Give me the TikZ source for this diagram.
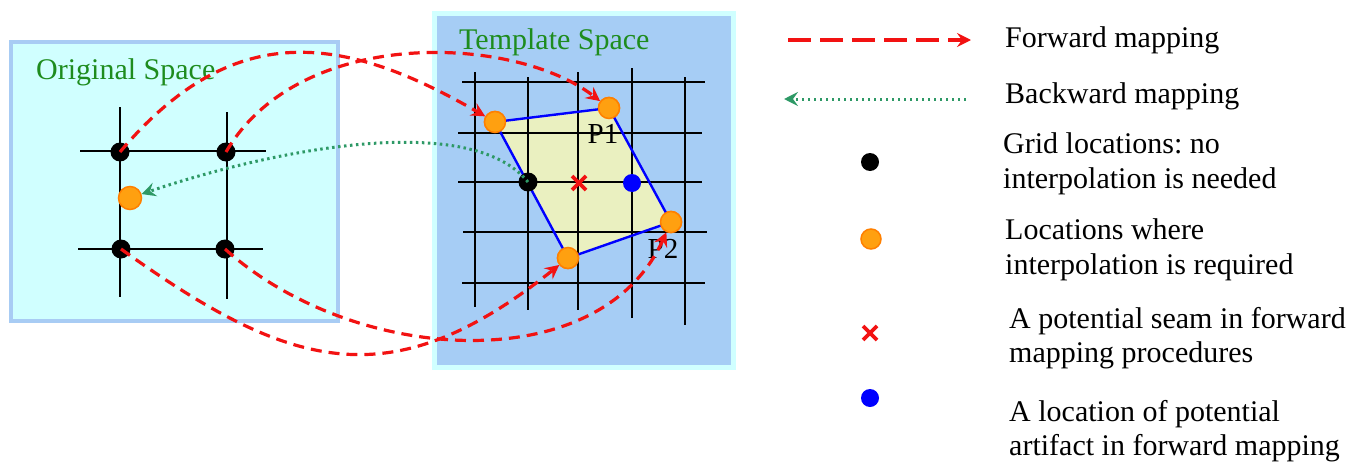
\documentclass[tikz,border=0pt]{standalone}
\usepackage{fontspec}
\setmainfont{Liberation Serif}
\frenchspacing
\usetikzlibrary{arrows.meta}
\definecolor{origfill}{HTML}{D0FFFF}
\definecolor{origedge}{HTML}{A8CCF4}
\definecolor{tplfill}{HTML}{A6CDF5}
\definecolor{tpledge}{HTML}{D0FFFF}
\definecolor{lblgreen}{HTML}{1E8C1E}
\definecolor{fwdred}{HTML}{F21212}
\definecolor{bwdgreen}{HTML}{2E9966}
\definecolor{quadfill}{HTML}{EAF0C0}
\definecolor{orgfill}{HTML}{FFA010}
\definecolor{orgedge}{HTML}{FF8000}
\begin{document}
\begin{tikzpicture}[x=1pt,y=-1pt,
  gridline/.style={line width=2.9pt, black},
  bdot/.style={circle, fill=black, inner sep=0pt, minimum size=19pt},
  odot/.style={circle, fill=orgfill, draw=orgedge, line width=1.5pt, inner sep=0pt, minimum size=21pt},
  bldot/.style={circle, fill=blue, inner sep=0pt, minimum size=18pt},
  fwd/.style={draw=fwdred, line width=3.2pt, dash pattern=on 11pt off 7pt,
    -{Stealth[length=14pt,width=14pt,inset=5pt]}},
  fwdleg/.style={fwd, line width=4pt, dash pattern=on 23pt off 9pt},
  bwd/.style={draw=bwdgreen, line width=3pt, dash pattern=on 2.5pt off 3.5pt,
    -{Stealth[length=14pt,width=14pt,inset=5pt]}},
  seamx/.style={draw=fwdred, line width=3.8pt},
  spacelbl/.style={text=lblgreen, font=\fontsize{30}{34}\selectfont, inner sep=0pt},
  plbl/.style={text=black, font=\fontsize{29}{34}\selectfont, inner sep=0pt},
  legtext/.style={anchor=west, align=left, inner sep=0pt, font=\fontsize{30}{34.5}\selectfont}
]
\useasboundingbox (0,0) rectangle (1350,463);

% boxes
\draw[draw=origedge, fill=origfill, line width=4.5pt] (11,42) rectangle (338,321);
\draw[draw=tpledge, fill=tplfill, line width=5pt] (434,13) rectangle (733,367);
\node[spacelbl, anchor=west] (origlbl) at (36,72) {Original Space};
\node[spacelbl, anchor=west] (tpllbl) at (459,42) {Template Space};

% left grid
\draw[gridline] (120,107) -- (120,297);
\draw[gridline] (227,112) -- (227,299);
\draw[gridline] (80,151) -- (266,151);
\draw[gridline] (78,249) -- (263,249);

% template quad
\node[odot] (A) at (495,122) {};
\node[odot] (B) at (609,108) {};
\node[odot] (C) at (671,222) {};
\node[odot] (D) at (568,258) {};
\fill[quadfill] (A.center) -- (B.center) -- (C.center) -- (D.center) -- cycle;

% template grid
\draw[gridline] (475,72) -- (475,307);
\draw[gridline] (528,77) -- (528,310);
\draw[gridline] (578,72) -- (578,310);
\draw[gridline] (632,68) -- (632,318);
\draw[gridline] (685,77) -- (685,325);
\draw[gridline] (462,82) -- (705,82);
\draw[gridline] (458,133) -- (702,133);
\draw[gridline] (458,182) -- (702,182);
\draw[gridline] (463,232) -- (707,232);
\draw[gridline] (462,283) -- (705,283);

\draw[blue, line width=2.4pt] (A.center) -- (B.center) -- (C.center) -- (D.center) -- cycle;
\node[odot] at (A) {};
\node[odot] at (B) {};
\node[odot] at (C) {};
\node[odot] at (D) {};

\node[plbl] (p1) at (603,134) {P1};
\node[plbl] (p2) at (663,249) {P2};

% template markers
\node[bdot] (tb) at (528,182) {};
\coordinate (seam) at (579,183);
\draw[seamx] (572,176) -- (586,190) (572,190) -- (586,176);
\node[bldot] (art) at (632,183) {};

% left dots
\node[bdot] (tl) at (120,152) {};
\node[bdot] (tr) at (226,152) {};
\node[bdot] (bl) at (121,249) {};
\node[bdot] (br) at (225,249) {};
\node[odot, minimum size=23pt] (o) at (130,198) {};

% forward mappings
\draw[fwd] (tl.center) .. controls (233,18) and (343,34) .. (A);
\draw[fwd] (tr.center) .. controls (300,25) and (515,35) .. (B);
\draw[fwd] (bl.center) .. controls (290,370) and (390,400) .. (D);
\draw[fwd] (br.center) .. controls (354,365) and (600,380) .. (C);

% backward mapping
\draw[bwd] (tb.center) .. controls (470,110) and (271,150) .. (o);

% legend
\coordinate (f1) at (788,40);
\coordinate (f2) at (971,40);
\draw[fwdleg] (f1) -- (f2);
\coordinate (g1) at (966,99);
\coordinate (g2) at (784,99);
\draw[bwd] (g1) -- (g2);
\node[bdot, minimum size=18pt] (lb) at (870,162) {};
\node[odot, minimum size=20pt] (lo) at (871,239) {};
\coordinate (lx) at (870,333);
\draw[seamx] (863,326) -- (877,340) (863,340) -- (877,326);
\node[bldot] (lbl) at (870,398) {};

\node[legtext] (t1) at (1005,40) {Forward mapping};
\node[legtext] (t2) at (1005,96) {Backward mapping};
\node[legtext] (t3) at (1003,164) {Grid locations: no\\interpolation is needed};
\node[legtext] (t4) at (1005,250) {Locations where\\interpolation is required};
\node[legtext] (t5) at (1009,338) {A potential seam in forward\\mapping procedures};
\node[legtext] (t6) at (1009,431) {A location of potential\\artifact in forward mapping};
\end{tikzpicture}
\end{document}
